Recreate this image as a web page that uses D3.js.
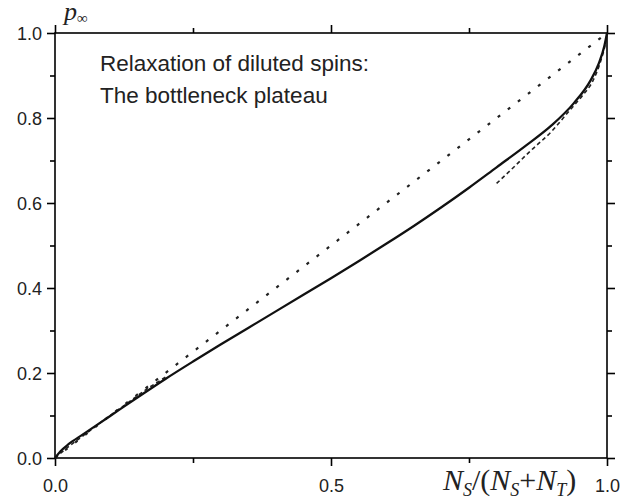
<!DOCTYPE html>
<html><head><meta charset="utf-8">
<script src="https://cdn.jsdelivr.net/npm/d3@7/dist/d3.min.js"></script>
<style>body{margin:0;background:#fff}svg{display:block}</style>
</head><body>
<svg id="c" width="642" height="504"></svg>
<script>
// Data
const xMajorTicks = [0, 0.5, 1.0];
const xMinorTicks = [0.25, 0.75];
const yMajorTicks = [0, 0.2, 0.4, 0.6, 0.8, 1.0];
const yMinorTicks = [0.1, 0.3, 0.5, 0.7, 0.9];
const diagonal = [[0, 0], [1, 1]];
const solidCurve = [[0,0],[0.01,0.016],[0.025,0.033],[0.05,0.055],[0.1,0.099],[0.15,0.143],[0.2,0.186],[0.25,0.227],[0.3,0.267],[0.35,0.306],[0.4,0.345],[0.45,0.384],[0.5,0.423],[0.55,0.463],[0.6,0.504],[0.65,0.546],[0.7,0.59],[0.75,0.636],[0.8,0.684],[0.85,0.732],[0.9,0.783],[0.94,0.835],[0.97,0.888],[0.985,0.928],[0.995,0.968],[1,1]];
const dashedLow = [[0,0],[0.021,0.023],[0.039,0.041],[0.057,0.058],[0.075,0.076],[0.1,0.1],[0.13,0.128],[0.172,0.167],[0.2,0.19]];
const dashedHigh = [[0.8,0.646],[0.83,0.683],[0.86,0.721],[0.9,0.769],[0.933,0.819],[0.955,0.852],[0.975,0.889],[0.99,0.94],[0.997,0.975],[1,1]];

const svg = d3.select("#c");
const L = 55, R = 607, T = 33, B = 458;
const x = d3.scaleLinear().domain([0, 1]).range([L, R]);
const y = d3.scaleLinear().domain([0, 1]).range([B, T]);
const fmt = d3.format(".1f");

svg.append("rect").attr("x", L).attr("y", T).attr("width", R - L).attr("height", B - T)
  .attr("fill", "none").attr("stroke", "#000").attr("stroke-width", 1.6);

function ax(gen, tr, vals, len, lab) {
  const g = svg.append("g").attr("transform", tr)
    .call(gen.tickValues(vals).tickSize(len).tickFormat(lab ? fmt : ""));
  g.select(".domain").remove();
  g.selectAll(".tick line").attr("stroke", "#000").attr("stroke-width", 1.6);
  g.selectAll("text").attr("font-family", "Liberation Sans, Arial, sans-serif")
    .attr("font-size", 18).attr("fill", "#222");
  return g;
}
const gxb = ax(d3.axisBottom(x), `translate(0,${B})`, xMajorTicks, 8, true);
gxb.selectAll("text").attr("dy", "1.25em");
ax(d3.axisBottom(x), `translate(0,${B})`, xMinorTicks, 5, false);
ax(d3.axisTop(x), `translate(0,${T})`, xMajorTicks, 8, false);
ax(d3.axisTop(x), `translate(0,${T})`, xMinorTicks, 5, false);
const gyl = ax(d3.axisLeft(y), `translate(${L},0)`, yMajorTicks, 8, true);
gyl.selectAll("text").attr("x", -13).attr("dy", "0.36em");
ax(d3.axisLeft(y), `translate(${L},0)`, yMinorTicks, 5, false);
ax(d3.axisRight(y), `translate(${R},0)`, yMajorTicks, 8, false);
ax(d3.axisRight(y), `translate(${R},0)`, yMinorTicks, 5, false);

const line = d3.line().x(d => x(d[0])).y(d => y(d[1])).curve(d3.curveMonotoneX);

svg.append("path").datum(diagonal).attr("d", d3.line().x(d => x(d[0])).y(d => y(d[1])))
  .attr("fill", "none").attr("stroke", "#222").attr("stroke-width", 2.2).attr("stroke-dasharray", "3,9.7");
svg.append("path").datum(dashedLow).attr("d", line)
  .attr("fill", "none").attr("stroke", "#222").attr("stroke-width", 1.6).attr("stroke-dasharray", "4,3");
svg.append("path").datum(dashedHigh).attr("d", line)
  .attr("fill", "none").attr("stroke", "#222").attr("stroke-width", 1.6).attr("stroke-dasharray", "4,3");
svg.append("path").datum(solidCurve).attr("d", line)
  .attr("fill", "none").attr("stroke", "#111").attr("stroke-width", 2.3);

const ann = svg.append("text").attr("font-family", "Liberation Sans, Arial, sans-serif")
  .attr("font-size", 22.5).attr("fill", "#222");
ann.append("tspan").attr("x", 100).attr("y", 71).text("Relaxation of diluted spins:");
ann.append("tspan").attr("x", 100).attr("y", 103).text("The bottleneck plateau");

const yt = svg.append("text").attr("x", 64).attr("y", 20)
  .attr("font-family", "Liberation Serif, Times New Roman, serif").attr("font-style", "italic")
  .attr("font-size", 26).attr("fill", "#222");
yt.append("tspan").text("p");
yt.append("tspan").attr("font-size", 15).attr("font-style", "normal").attr("dy", 3).text("∞");

const xt = svg.append("text").attr("x", 443).attr("y", 490)
  .attr("font-family", "Liberation Serif, Times New Roman, serif").attr("font-style", "italic")
  .attr("font-size", 30).attr("fill", "#222");
xt.append("tspan").text("N");
xt.append("tspan").attr("font-size", 18).attr("dy", 6).text("S");
xt.append("tspan").attr("dy", -6).attr("font-style", "normal").text("/(");
xt.append("tspan").text("N");
xt.append("tspan").attr("font-size", 18).attr("dy", 6).text("S");
xt.append("tspan").attr("dy", -6).attr("font-style", "normal").text("+");
xt.append("tspan").text("N");
xt.append("tspan").attr("font-size", 18).attr("dy", 6).text("T");
xt.append("tspan").attr("dy", -6).attr("font-style", "normal").text(")");
</script>
</body></html>
